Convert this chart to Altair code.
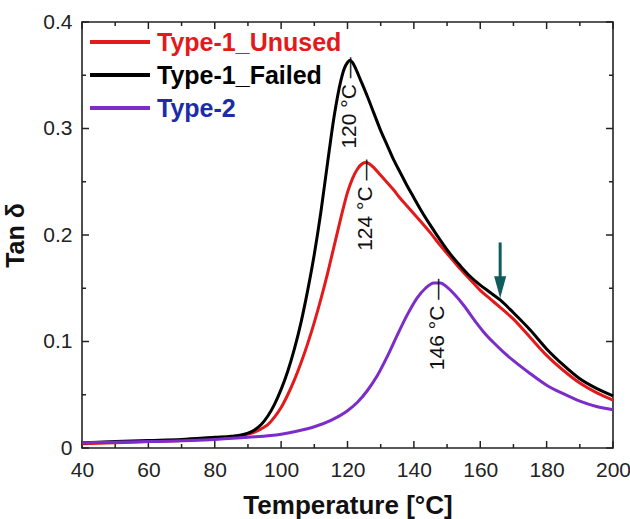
import altair as alt
import pandas as pd

# ---------------- data ----------------
temp_unused = [40, 50, 60, 70, 80, 85, 90, 92, 94, 96, 98, 100, 102, 104, 106, 108, 110, 112, 114, 116,
               118, 120, 121.5, 123, 124.5, 125.5, 126.5, 128, 130, 132, 134, 136, 138, 140, 142, 145,
               148, 151, 154, 157, 160, 163, 166, 170, 175, 180, 185, 190, 195, 200]
tan_unused = [0.004, 0.005, 0.006, 0.007, 0.009, 0.010, 0.013, 0.015, 0.018, 0.022, 0.029, 0.038, 0.050,
              0.064, 0.080, 0.098, 0.118, 0.140, 0.164, 0.190, 0.216, 0.240, 0.253, 0.262, 0.267, 0.268,
              0.267, 0.263, 0.256, 0.249, 0.242, 0.234, 0.227, 0.220, 0.213, 0.202, 0.190, 0.179, 0.168,
              0.158, 0.148, 0.140, 0.132, 0.121, 0.104, 0.087, 0.073, 0.061, 0.052, 0.045]

temp_failed = [40, 50, 60, 70, 80, 85, 90, 92, 94, 96, 98, 100, 102, 104, 106, 108, 110, 112, 114, 116,
               118, 119, 120, 120.8, 121.5, 122.5, 124, 126, 128, 130, 132, 134, 136, 138, 140, 142, 145,
               148, 151, 154, 157, 160, 163, 166, 170, 175, 180, 185, 190, 195, 200]
tan_failed = [0.005, 0.006, 0.007, 0.008, 0.010, 0.011, 0.014, 0.017, 0.022, 0.030, 0.041, 0.055, 0.072,
              0.093, 0.118, 0.148, 0.182, 0.222, 0.268, 0.312, 0.345, 0.356, 0.362, 0.364, 0.362, 0.356,
              0.345, 0.330, 0.314, 0.298, 0.284, 0.270, 0.258, 0.246, 0.235, 0.224, 0.209, 0.195, 0.182,
              0.171, 0.161, 0.153, 0.146, 0.139, 0.127, 0.111, 0.093, 0.078, 0.065, 0.056, 0.049]

temp_type2 = [40, 60, 80, 90, 100, 105, 110, 115, 120, 123, 126, 129, 132, 135, 138, 141, 143.5, 146,
              148, 150, 152, 155, 158, 161, 164, 167, 170, 175, 180, 185, 190, 195, 200]
tan_type2 = [0.005, 0.006, 0.008, 0.010, 0.013, 0.016, 0.020, 0.026, 0.035, 0.043, 0.054, 0.068, 0.086,
             0.106, 0.125, 0.141, 0.150, 0.155, 0.155, 0.151, 0.145, 0.134, 0.121, 0.109, 0.099, 0.090,
             0.082, 0.070, 0.059, 0.051, 0.044, 0.039, 0.036]

series_names = ["Type-1_Unused", "Type-1_Failed", "Type-2"]
line_colors = ["#e31a1c", "#000000", "#7b2cc9"]
text_colors = ["#e31a1c", "#000000", "#1c2ca6"]

peak_labels = ["120 °C —", "124 °C —", "146 °C —"]
peak_temp = [120.5, 125.4, 147.0]
peak_tan = [0.364, 0.268, 0.156]

arrow_temp = [166]
arrow_top = [0.193]
arrow_tip = [0.151]

x_major = [40, 60, 80, 100, 120, 140, 160, 180, 200]
x_minor = [50, 70, 90, 110, 130, 150, 170, 190]
y_major = [0, 0.1, 0.2, 0.3, 0.4]
y_minor = [0.05, 0.15, 0.25, 0.35]

# ---------------- layout ----------------
W, H = 531, 426
FONT = "Liberation Sans"

xscale = alt.Scale(domain=[40, 200], nice=False, zero=False)
yscale = alt.Scale(domain=[0, 0.4], nice=False, zero=False)
xaxis = alt.Axis(values=x_major, format="d", grid=False, ticks=False, domain=False,
                 labelFont=FONT, labelFontSize=21, labelColor="#222", labelPadding=11,
                 labelFlush=False, labelOverlap=False,
                 title="Temperature [°C]", titleFont=FONT, titleFontSize=26,
                 titleFontWeight="bold", titleColor="#111", titlePadding=12)
yaxis = alt.Axis(values=y_major, format="~g", grid=False, ticks=False, domain=False,
                 labelFont=FONT, labelFontSize=21, labelColor="#222", labelPadding=10,
                 labelFlush=False, labelOverlap=False,
                 title="Tan δ", titleFont=FONT, titleFontSize=25,
                 titleFontWeight="bold", titleColor="#111", titlePadding=14)


def X(field="T"):
    return alt.X(f"{field}:Q", scale=xscale, axis=xaxis)


def Y(field="tan"):
    return alt.Y(f"{field}:Q", scale=yscale, axis=yaxis)


layers = []

# tick marks (inward) on all four sides
for vals, size in ((x_major, 7), (x_minor, 4)):
    d = pd.DataFrame({"T": vals})
    layers.append(alt.Chart(d).mark_rule(color="#222", strokeWidth=1.5).encode(
        x=X(), y=alt.value(H), y2=alt.value(H - size)))
    layers.append(alt.Chart(d).mark_rule(color="#222", strokeWidth=1.5).encode(
        x=X(), y=alt.value(0), y2=alt.value(size)))
for vals, size in ((y_major, 7), (y_minor, 4)):
    d = pd.DataFrame({"tan": vals})
    layers.append(alt.Chart(d).mark_rule(color="#222", strokeWidth=1.5).encode(
        y=Y(), x=alt.value(0), x2=alt.value(size)))
    layers.append(alt.Chart(d).mark_rule(color="#222", strokeWidth=1.5).encode(
        y=Y(), x=alt.value(W), x2=alt.value(W - size)))

# curves
curves = [(temp_unused, tan_unused, 0), (temp_failed, tan_failed, 1), (temp_type2, tan_type2, 2)]
for t, v, i in curves:
    d = pd.DataFrame({"T": t, "tan": v})
    layers.append(alt.Chart(d).mark_line(strokeWidth=3, interpolate="monotone",
                                         color=line_colors[i]).encode(x=X(), y=Y()))

# peak labels
peaks = pd.DataFrame({"T": peak_temp, "tan": peak_tan, "label": peak_labels})
layers.append(alt.Chart(peaks).mark_text(angle=270, align="right", baseline="middle",
                                         font=FONT, fontSize=21, color="#111", dx=3, dy=1).encode(
    x=X(), y=Y(), text="label:N"))

# arrow
arr = pd.DataFrame({"T": arrow_temp, "tan": arrow_top, "tan2": arrow_tip})
layers.append(alt.Chart(arr).mark_rule(color="#0f5c5c", strokeWidth=3).encode(
    x=X(), y=Y(), y2="tan2:Q"))
layers.append(alt.Chart(arr).mark_point(shape="M-0.55,-1L0.55,-1L0,1Z", size=480, filled=True,
                                        opacity=1, color="#0f5c5c").encode(
    x=X(), y=Y("tan2")))

# legend (manual)
for i, name in enumerate(series_names):
    yy = 20 + 33 * i
    d = pd.DataFrame({"name": [name]})
    layers.append(alt.Chart(d).mark_rule(color=line_colors[i], strokeWidth=4).encode(
        x=alt.value(8), x2=alt.value(68), y=alt.value(yy)))
    layers.append(alt.Chart(d).mark_text(align="left", baseline="middle", font=FONT, fontSize=25,
                                         fontWeight="bold", color=text_colors[i]).encode(
        x=alt.value(75), y=alt.value(yy + 1), text="name:N"))

chart = alt.layer(*layers).properties(
    width=W, height=H,
    autosize=alt.AutoSizeParams(type="none"),
    padding={"left": 82, "top": 22, "right": 17, "bottom": 71},
    background="white",
).configure_view(stroke="#222", strokeWidth=1.6)

chart.save("out.html", embed_options={"renderer": "svg", "actions": False})
